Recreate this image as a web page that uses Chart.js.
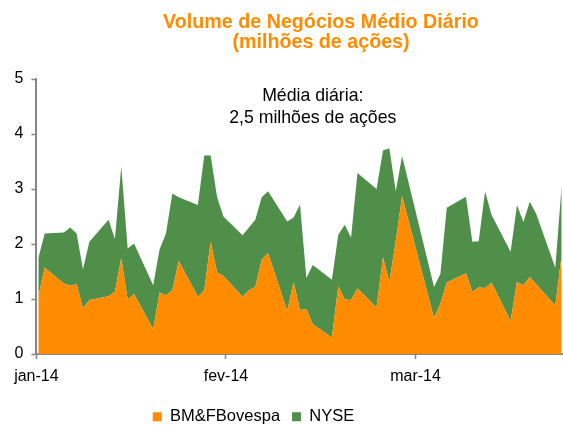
<!DOCTYPE html>
<html>
<head>
<meta charset="utf-8">
<script src="https://cdn.jsdelivr.net/npm/chart.js@4.4.1/dist/chart.umd.min.js"></script>
<style>
  html, body { margin: 0; padding: 0; background: #fff; }
</style>
</head>
<body>
<canvas id="chart" width="563" height="425"></canvas>
<script>
// trading days, counted in calendar days from 2 Jan 2014 (weekends + carnival missing)
const days = [0, 1, 4, 5, 6, 7, 8, 11, 12, 13, 14, 15, 18, 19, 20, 21, 22, 25, 26, 27, 28, 29,
  32, 33, 34, 35, 36, 39, 40, 41, 42, 43, 46, 47, 48, 49, 50, 53, 54, 55, 56, 57,
  62, 63, 64, 67, 68, 69, 70, 71, 74, 75, 76, 77, 78, 81, 82];

// millions of shares per day
const bovespa = [1.04, 1.57, 1.28, 1.24, 1.27, 0.83, 0.98, 1.05, 1.13, 1.74, 0.99, 1.09, 0.45, 1.12, 1.07, 1.16, 1.69, 1.04, 1.16, 2.04, 1.48, 1.42,
  1.04, 1.16, 1.22, 1.72, 1.83, 0.78, 1.31, 0.80, 0.82, 0.54, 0.30, 1.23, 0.99, 0.98, 1.19, 0.85, 1.76, 1.31, 2.05, 2.87,
  0.65, 0.92, 1.30, 1.47, 1.13, 1.21, 1.20, 1.30, 0.60, 1.31, 1.25, 1.40, 1.27, 0.88, 1.80];
const nyse = [0.70, 0.62, 0.93, 1.06, 0.92, 0.71, 1.06, 1.39, 0.96, 1.67, 0.93, 0.92, 0.80, 0.78, 1.12, 1.76, 1.16, 1.67, 2.45, 1.57, 1.38, 1.08,
  1.12, 1.14, 1.22, 1.13, 1.13, 1.63, 1.17, 1.92, 0.56, 1.08, 1.05, 0.94, 1.36, 1.14, 2.10, 2.15, 1.94, 2.43, 0.91, 0.73,
  0.57, 0.54, 1.36, 1.39, 0.91, 0.84, 1.76, 1.23, 1.26, 1.40, 1.15, 1.37, 1.28, 0.69, 1.27];

const tickDays = [-0.3, 29.4, 59.1];
const tickLabels = ["jan-14", "fev-14", "mar-14"];

const ORANGE = "#FF8C00";
const GREEN = "#4F8F4A";
const GREY = "#868686";
const FONT = "'Liberation Sans', Arial, sans-serif";

const toPoints = vals => vals.map((v, i) => ({ x: days[i], y: v }));

// title + "média diária" note, and nudging the legend where the original has it
const textPlugin = {
  id: "texts",
  afterLayout(chart) {
    const lg = chart.legend;
    lg.left -= 27.5; lg.right -= 27.5;
    lg.top += 10; lg.bottom += 10;
  },
  afterDraw(chart) {
    const ctx = chart.ctx;
    const { x, y } = chart.scales;
    ctx.save();
    ctx.textAlign = "center";
    ctx.textBaseline = "middle";
    ctx.fillStyle = ORANGE;
    ctx.font = "bold 19.7px " + FONT;
    ctx.fillText("Volume de Negócios Médio Diário", 321, 22.5);
    ctx.fillText("(milhões de ações)", 321, 43);
    ctx.fillStyle = "#000";
    ctx.font = "17.7px " + FONT;
    ctx.fillText("Média diária:", x.getPixelForValue(43), y.getPixelForValue(4.68));
    ctx.fillText("2,5 milhões de ações", x.getPixelForValue(43), y.getPixelForValue(4.29));
    ctx.restore();
  }
};

new Chart(document.getElementById("chart"), {
  type: "line",
  data: {
    datasets: [
      { label: "BM&FBovespa", data: toPoints(bovespa), backgroundColor: ORANGE, borderColor: ORANGE,
        borderWidth: 0, fill: "origin", pointRadius: 0, tension: 0 },
      { label: "NYSE", data: toPoints(nyse), backgroundColor: GREEN, borderColor: GREEN,
        borderWidth: 0, fill: "-1", pointRadius: 0, tension: 0 }
    ]
  },
  options: {
    responsive: false,
    animation: false,
    layout: { padding: { top: 79, right: 1, left: 0, bottom: 0 } },
    plugins: {
      legend: {
        position: "bottom",
        labels: { boxWidth: 9, boxHeight: 9, padding: 12, color: "#000", font: { family: FONT, size: 16.5 } }
      },
      tooltip: { enabled: false },
      title: { display: false }
    },
    scales: {
      x: {
        type: "linear", min: -0.3, max: 82.05, z: 1,
        grid: { drawOnChartArea: false, tickLength: 5, color: GREY, tickWidth: 1.5 },
        border: { color: GREY, width: 2 },
        ticks: {
          padding: 8, color: "#000", font: { family: FONT, size: 16 }, maxRotation: 0, autoSkip: false,
          callback: (v, i) => tickLabels[i]
        },
        afterBuildTicks: s => { s.ticks = tickDays.map(v => ({ value: v })); },
        afterFit: s => { s.height = 32.5; }
      },
      y: {
        stacked: true, min: 0, max: 5, z: 1,
        grid: { drawOnChartArea: false, tickLength: 5, color: GREY, tickWidth: 1.5 },
        border: { color: GREY, width: 2 },
        ticks: { stepSize: 1, padding: 8, color: "#000", font: { family: FONT, size: 16 } },
        afterFit: s => { s.width = 36.4; }
      }
    }
  },
  plugins: [textPlugin]
});
</script>
</body>
</html>
